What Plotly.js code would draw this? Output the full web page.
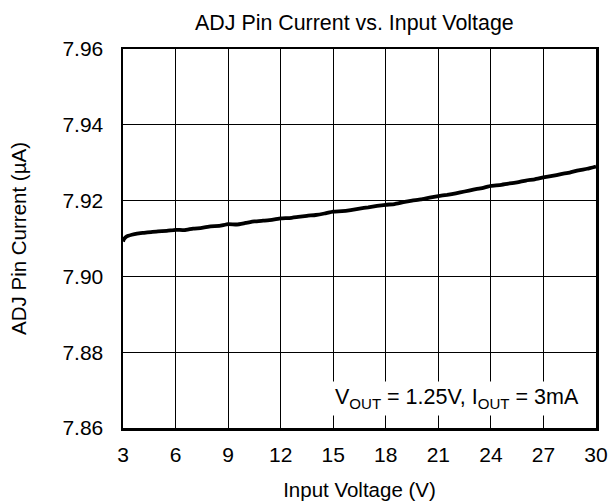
<!DOCTYPE html>
<html>
<head>
<meta charset="utf-8">
<script src="https://cdn.plot.ly/plotly-3.0.1.min.js"></script>
<style>html,body{margin:0;padding:0;background:#fff;}</style>
</head>
<body>
<div id="chart" style="width:611px;height:504px;"></div>
<script>
const inputVoltage = [3, 3.05, 3.15, 3.3, 3.5, 3.8, 4.2, 4.6, 5, 5.5, 6, 6.5, 7, 7.5, 8, 8.5, 9, 9.5, 10, 10.5, 11, 11.5, 12, 12.5, 13, 13.5, 14, 14.5, 15, 15.5, 16, 16.5, 17, 17.5, 18, 18.5, 19, 19.5, 20, 20.5, 21, 21.5, 22, 22.5, 23, 23.5, 24, 24.5, 25, 25.5, 26, 26.5, 27, 27.5, 28, 28.5, 29, 29.5, 30];
const adjCurrent = [7.9092, 7.9098, 7.9103, 7.9107, 7.9110, 7.9113, 7.9115, 7.9117, 7.9119, 7.9120, 7.9123, 7.9122, 7.9126, 7.9128, 7.9132, 7.9133, 7.9138, 7.9137, 7.9141, 7.9145, 7.9147, 7.9149, 7.9153, 7.9154, 7.9157, 7.9160, 7.9162, 7.9166, 7.9171, 7.9172, 7.9175, 7.9179, 7.9182, 7.9186, 7.9189, 7.9191, 7.9196, 7.9200, 7.9203, 7.9208, 7.9212, 7.9215, 7.9219, 7.9224, 7.9229, 7.9233, 7.9239, 7.9241, 7.9245, 7.9248, 7.9253, 7.9256, 7.9261, 7.9265, 7.9270, 7.9274, 7.9280, 7.9284, 7.9290];
const xTicks = [3, 6, 9, 12, 15, 18, 21, 24, 27, 30];
const yTicks = [7.86, 7.88, 7.90, 7.92, 7.94, 7.96];

const font = "Liberation Sans, Arial, sans-serif";
const data = [{
  x: inputVoltage, y: adjCurrent, type: 'scatter', mode: 'lines',
  line: {color: '#000', width: 3.8, shape: 'spline', smoothing: 0.4},
  hoverinfo: 'none'
}];
const layout = {
  width: 611, height: 504,
  margin: {l: 123, r: 15, t: 49, b: 76},
  paper_bgcolor: '#fff', plot_bgcolor: '#fff',
  showlegend: false,
  font: {family: font, color: '#000', size: 21},
  title: {text: 'ADJ Pin Current vs. Input Voltage', font: {family: font, size: 21.4, color: '#000'}, x: 0.58, xanchor: 'center', y: 0.955, yanchor: 'middle'},
  xaxis: {
    range: [3, 30], tickvals: xTicks, ticktext: xTicks.map(String),
    showgrid: true, gridcolor: '#000', gridwidth: 1,
    showline: true, linecolor: '#000', linewidth: 2.5, mirror: true,
    ticks: '', zeroline: false, tickfont: {size: 21, family: font},
    ticklabelstandoff: 6,
    title: {text: 'Input Voltage (V)', font: {size: 20.5, family: font}, standoff: 18},
    fixedrange: true
  },
  yaxis: {
    range: [7.86, 7.96], tickvals: yTicks, ticktext: yTicks.map(v => v.toFixed(2)),
    showgrid: true, gridcolor: '#000', gridwidth: 1,
    showline: true, linecolor: '#000', linewidth: 2.5, mirror: true,
    ticks: '', zeroline: false, tickfont: {size: 21, family: font},
    ticklabelstandoff: 13,
    title: {text: 'ADJ Pin Current (\u00b5A)', font: {size: 20.5, family: font}, standoff: 30},
    fixedrange: true
  },
  annotations: [{
    xref: 'paper', yref: 'paper', x: 0.972, y: 0.032, xanchor: 'right', yanchor: 'bottom',
    text: 'V<sub>OUT</sub> = 1.25V, I<sub>OUT</sub> = 3mA', showarrow: false,
    font: {size: 21.5, family: font, color: '#000'}, bgcolor: '#fff', borderpad: 3
  }]
};
Plotly.newPlot('chart', data, layout, {displayModeBar: false, staticPlot: true});
</script>
</body>
</html>
